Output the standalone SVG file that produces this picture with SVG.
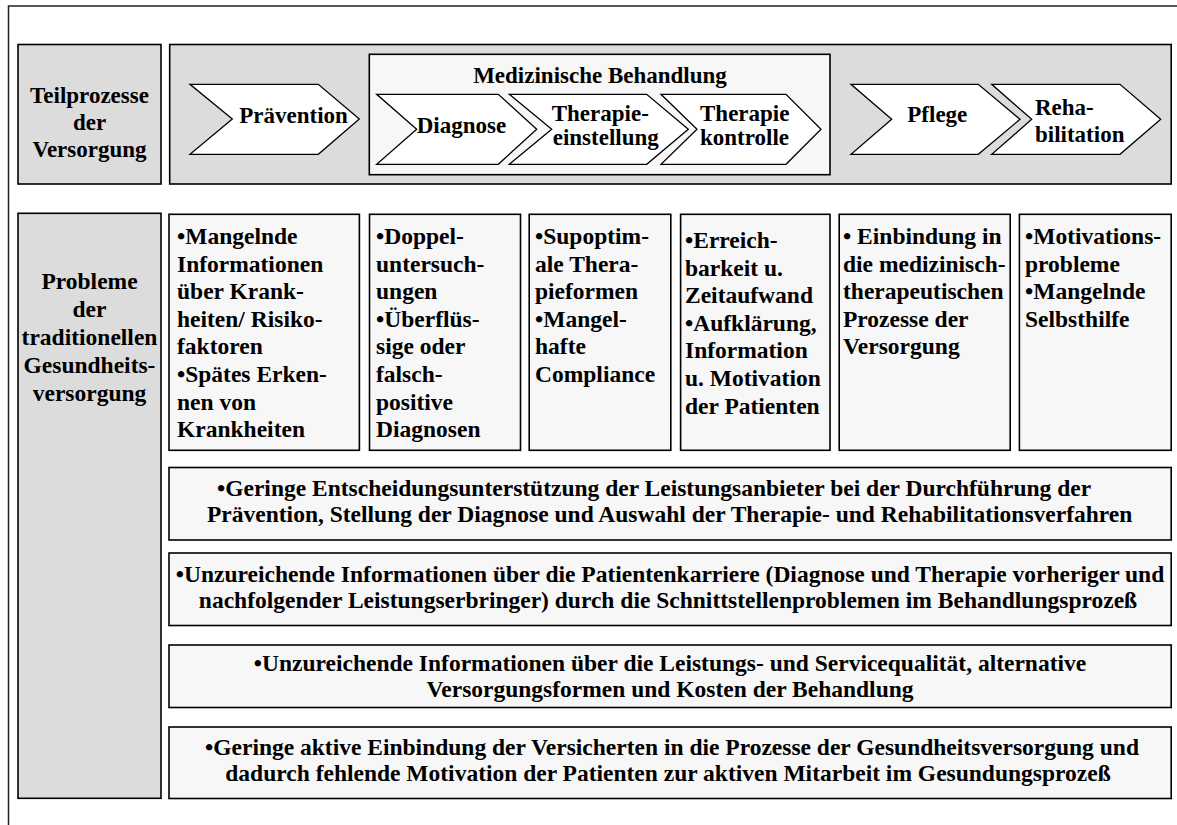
<svg xmlns="http://www.w3.org/2000/svg" width="1177" height="825" viewBox="0 0 1177 825">
<style>
.t{font-family:"Liberation Serif","Times New Roman",serif;font-weight:bold;font-size:23.5px;fill:#000}
.h{font-size:23px}
.c{text-anchor:middle}
.g{fill:#dcdcdc;stroke:#000;stroke-width:1.6}
.w{fill:#f7f7f7;stroke:#000;stroke-width:1.6}
.ch{fill:#fff;stroke:#000;stroke-width:1.3}
</style>
<rect x="0" y="0" width="1177" height="825" fill="#fff"/>
<path d="M8.5 825 V6 H1177" fill="none" stroke="#222" stroke-width="1.5"/>

<g id="teilprozesse">
<rect class="g" x="18" y="44.5" width="143" height="139.5"/>
<text class="t h c" x="89.5" y="103">Teilprozesse</text>
<text class="t h c" x="89.5" y="130">der</text>
<text class="t h c" x="89.5" y="157">Versorgung</text>
</g>

<g id="header">
<rect class="g" x="169.7" y="44.5" width="1001.5" height="139.5"/>
</g>

<g id="medizinische-behandlung">
<rect class="w" x="369.3" y="54.3" width="460.7" height="120.4"/>
<text class="t h c" x="600" y="83">Medizinische Behandlung</text>
</g>

<g id="praevention">
<polygon class="ch" points="190,84.3 318.3,84.3 359.3,119 318.3,154.3 190,154.3 232.3,119"/>
<text class="t h" x="239.3" y="123">Prävention</text>
</g>
<g id="diagnose">
<polygon class="ch" points="376.7,94.3 498.3,94.3 536.7,129.3 498.3,164.3 376.7,164.3 416.7,129.3"/>
<text class="t h" x="416.7" y="133">Diagnose</text>
</g>
<g id="therapieeinstellung">
<polygon class="ch" points="509.3,94.3 646.7,94.3 688.3,129.3 646.7,164.3 509.3,164.3 551.7,129.3"/>
<text class="t h" x="551.7" y="121">Therapie-</text>
<text class="t h" x="552.7" y="145">einstellung</text>
</g>
<g id="therapiekontrolle">
<polygon class="ch" points="661,94.3 786,94.3 821,129.3 786,164.3 661,164.3 697,129.3"/>
<text class="t h" x="700" y="121">Therapie</text>
<text class="t h" x="700" y="145">kontrolle</text>
</g>
<g id="pflege">
<polygon class="ch" points="851,84.3 978.3,84.3 1020,119.3 978.3,154.3 851,154.3 891.7,119.3"/>
<text class="t h" x="907.3" y="122">Pflege</text>
</g>
<g id="rehabilitation">
<polygon class="ch" points="991.7,84.3 1120,84.3 1160.7,119.3 1120,154.3 991.7,154.3 1031.7,119.3"/>
<text class="t h" x="1035" y="114.5">Reha-</text>
<text class="t h" x="1035" y="141.5">bilitation</text>
</g>

<g id="probleme">
<rect class="g" x="18" y="213.3" width="143" height="585"/>
<text class="t c" x="89.5" y="289">Probleme</text>
<text class="t c" x="89.5" y="317">der</text>
<text class="t c" x="89.5" y="345">traditionellen</text>
<text class="t c" x="89.5" y="373">Gesundheits-</text>
<text class="t c" x="89.5" y="401">versorgung</text>
</g>

<g id="box-praevention">
<rect class="w" x="169" y="214.3" width="190.4" height="236"/>
<text class="t" x="177" y="244">•Mangelnde</text>
<text class="t" x="177" y="271.6">Informationen</text>
<text class="t" x="177" y="299.2">über Krank-</text>
<text class="t" x="177" y="326.8">heiten/ Risiko-</text>
<text class="t" x="177" y="354.4">faktoren</text>
<text class="t" x="177" y="382">•Spätes Erken-</text>
<text class="t" x="177" y="409.6">nen von</text>
<text class="t" x="177" y="437.2">Krankheiten</text>
</g>

<g id="box-diagnose">
<rect class="w" x="369.5" y="214.3" width="151" height="236"/>
<text class="t" x="376" y="244">•Doppel-</text>
<text class="t" x="376" y="271.6">untersuch-</text>
<text class="t" x="376" y="299.2">ungen</text>
<text class="t" x="376" y="326.8">•Überflüs-</text>
<text class="t" x="376" y="354.4">sige oder</text>
<text class="t" x="376" y="382">falsch-</text>
<text class="t" x="376" y="409.6">positive</text>
<text class="t" x="376" y="437.2">Diagnosen</text>
</g>

<g id="box-therapie">
<rect class="w" x="529.2" y="214.3" width="141.6" height="236"/>
<text class="t" x="535" y="244">•Supoptim-</text>
<text class="t" x="535" y="271.6">ale Thera-</text>
<text class="t" x="535" y="299.2">pieformen</text>
<text class="t" x="535" y="326.8">•Mangel-</text>
<text class="t" x="535" y="354.4">hafte</text>
<text class="t" x="535" y="382">Compliance</text>
</g>

<g id="box-kontrolle">
<rect class="w" x="680.6" y="214.3" width="149.4" height="236"/>
<text class="t" x="685" y="248">•Erreich-</text>
<text class="t" x="685" y="275.6">barkeit u.</text>
<text class="t" x="685" y="303.2">Zeitaufwand</text>
<text class="t" x="685" y="330.8">•Aufklärung,</text>
<text class="t" x="685" y="358.4">Information</text>
<text class="t" x="685" y="386">u. Motivation</text>
<text class="t" x="685" y="413.6">der Patienten</text>
</g>

<g id="box-pflege">
<rect class="w" x="839.2" y="214.3" width="171" height="236"/>
<text class="t" x="843" y="244">• Einbindung in</text>
<text class="t" x="843" y="271.6">die medizinisch-</text>
<text class="t" x="843" y="299.2">therapeutischen</text>
<text class="t" x="843" y="326.8">Prozesse der</text>
<text class="t" x="843" y="354.4">Versorgung</text>
</g>

<g id="box-rehabilitation">
<rect class="w" x="1019.4" y="214.3" width="151.8" height="236"/>
<text class="t" x="1025" y="244">•Motivations-</text>
<text class="t" x="1025" y="271.6">probleme</text>
<text class="t" x="1025" y="299.2">•Mangelnde</text>
<text class="t" x="1025" y="326.8">Selbsthilfe</text>
</g>

<g id="box-entscheidung">
<rect class="w" x="169" y="467.5" width="1002.2" height="72.5"/>
<text class="t" x="217" y="496">•Geringe Entscheidungsunterstützung der Leistungsanbieter bei der Durchführung der</text>
<text class="t" x="207" y="522">Prävention, Stellung der Diagnose und Auswahl der Therapie- und Rehabilitationsverfahren</text>
</g>

<g id="box-patientenkarriere">
<rect class="w" x="169" y="553" width="1002.2" height="72.5"/>
<text class="t c" x="670" y="582">•Unzureichende Informationen über die Patientenkarriere (Diagnose und Therapie vorheriger und</text>
<text class="t c" x="668" y="608">nachfolgender Leistungserbringer) durch die Schnittstellenproblemen im Behandlungsprozeß</text>
</g>

<g id="box-servicequalitaet">
<rect class="w" x="169" y="645" width="1002.2" height="62.5"/>
<text class="t c" x="670" y="671">•Unzureichende Informationen über die Leistungs- und Servicequalität, alternative</text>
<text class="t c" x="670" y="697">Versorgungsformen und Kosten der Behandlung</text>
</g>

<g id="box-einbindung">
<rect class="w" x="169" y="727" width="1002.2" height="71.5"/>
<text class="t c" x="672" y="755">•Geringe aktive Einbindung der Versicherten in die Prozesse der Gesundheitsversorgung und</text>
<text class="t c" x="668" y="781">dadurch fehlende Motivation der Patienten zur aktiven Mitarbeit im Gesundungsprozeß</text>
</g>

<g id="connectors"></g>
</svg>
